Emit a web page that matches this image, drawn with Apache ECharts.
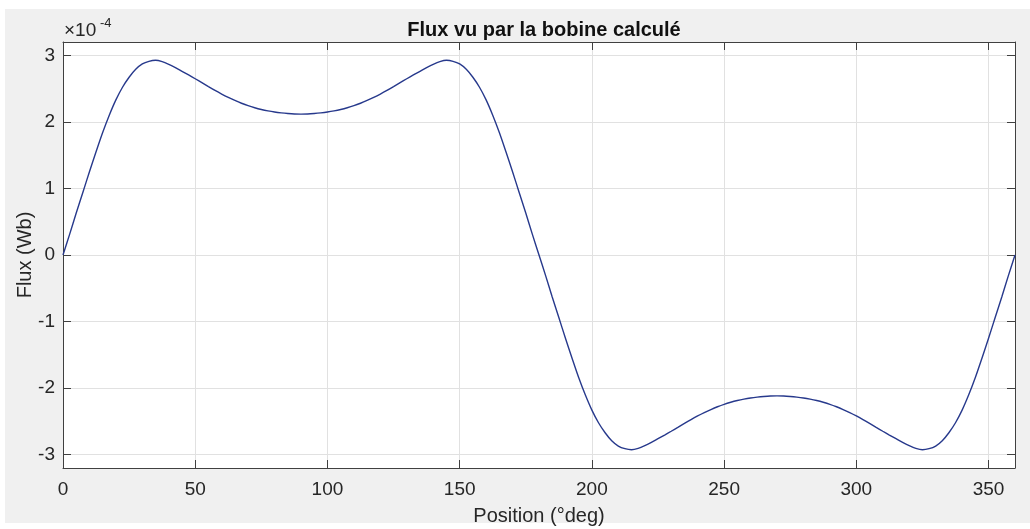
<!DOCTYPE html>
<html>
<head>
<meta charset="utf-8">
<script src="https://cdn.jsdelivr.net/npm/echarts@6/dist/echarts.min.js"></script>
<style>
  html, body { margin: 0; padding: 0; background: #ffffff; }
  #bg { position: absolute; left: 5px; top: 9px; width: 1025px; height: 514px; background: #f0f0f0; }
  #chart { position: absolute; left: 0; top: 0; width: 1030px; height: 529px; }
</style>
</head>
<body>
<div id="bg"></div>
<div id="chart"></div>
<script>
// Position (deg)
const positions = [
  0,2.5,5,7.5,10,12.5,15,17.5,20,22.5,25,27.5,30,32.5,35,37.5,40,42.5,45,47.5,50,52.5,55,57.5,60,62.5,65,67.5,70,72.5,75,77.5,80,82.5,85,87.5,90,
  92.5,95,97.5,100,102.5,105,107.5,110,112.5,115,117.5,120,122.5,125,127.5,130,132.5,135,137.5,140,142.5,145,147.5,150,152.5,155,157.5,160,162.5,165,167.5,170,172.5,175,177.5,180,
  182.5,185,187.5,190,192.5,195,197.5,200,202.5,205,207.5,210,212.5,215,217.5,220,222.5,225,227.5,230,232.5,235,237.5,240,242.5,245,247.5,250,252.5,255,257.5,260,262.5,265,267.5,270,
  272.5,275,277.5,280,282.5,285,287.5,290,292.5,295,297.5,300,302.5,305,307.5,310,312.5,315,317.5,320,322.5,325,327.5,330,332.5,335,337.5,340,342.5,345,347.5,350,352.5,355,357.5,360
];
// Flux (x 1e-4 Wb)
const flux = [
  0,0.31,0.63,0.94,1.25,1.55,1.84,2.10,2.33,2.52,2.67,2.79,2.87,2.91,2.925,2.905,2.865,2.815,2.76,2.705,2.648,2.59,2.53,2.472,2.418,2.368,2.322,2.28,2.243,2.212,2.186,2.165,2.148,2.135,2.125,2.118,2.116,
  2.118,2.125,2.135,2.148,2.165,2.186,2.212,2.243,2.28,2.322,2.368,2.418,2.472,2.53,2.59,2.648,2.705,2.76,2.815,2.865,2.905,2.925,2.91,2.87,2.79,2.67,2.52,2.33,2.10,1.84,1.55,1.25,0.94,0.63,0.31,0,
  -0.31,-0.63,-0.94,-1.25,-1.55,-1.84,-2.10,-2.33,-2.52,-2.67,-2.79,-2.87,-2.91,-2.925,-2.905,-2.865,-2.815,-2.76,-2.705,-2.648,-2.59,-2.53,-2.472,-2.418,-2.368,-2.322,-2.28,-2.243,-2.212,-2.186,-2.165,-2.148,-2.135,-2.125,-2.118,-2.116,
  -2.118,-2.125,-2.135,-2.148,-2.165,-2.186,-2.212,-2.243,-2.28,-2.322,-2.368,-2.418,-2.472,-2.53,-2.59,-2.648,-2.705,-2.76,-2.815,-2.865,-2.905,-2.925,-2.91,-2.87,-2.79,-2.67,-2.52,-2.33,-2.10,-1.84,-1.55,-1.25,-0.94,-0.63,-0.31,0
];

const titleText = 'Flux vu par la bobine calculé';
const xName = 'Position (°deg)';
const yName = 'Flux (Wb)';
const expBase = '×10';
const expPow = '-4';

const FONT = '"Liberation Sans", Arial, Helvetica, sans-serif';
const TXT = '#262626';
const AX = '#404040';
const GRIDC = '#e1e1e1';

const chart = echarts.init(document.getElementById('chart'), null, { renderer: 'canvas' });

const baseX = {
  type: 'value', min: 0, max: 360, interval: 50,
  axisLine: { show: true, onZero: false, lineStyle: { color: AX, width: 1 } },
  axisTick: { show: true, inside: true, length: 8, lineStyle: { color: AX } },
};
const baseY = {
  type: 'value', min: -3.2, max: 3.2, splitNumber: 6,
  axisLine: { show: true, onZero: false, lineStyle: { color: AX, width: 1 } },
  axisTick: { show: true, inside: true, length: 8, lineStyle: { color: AX } },
};

chart.setOption({
  backgroundColor: 'transparent',
  animation: false,
  title: {
    text: titleText, left: 539, top: 15, textAlign: 'center',
    textStyle: { fontFamily: FONT, fontSize: 20, fontWeight: 'bold', color: '#111111' }
  },
  grid: {
    left: 63, right: 15, top: 42, bottom: 61,
    containLabel: false, outerBoundsMode: 'none',
    show: true, backgroundColor: '#ffffff', borderWidth: 0
  },
  xAxis: [
    Object.assign({}, baseX, {
      position: 'bottom',
      name: xName, nameLocation: 'middle', nameGap: 38, nameMoveOverlap: false,
      nameTextStyle: { fontFamily: FONT, fontSize: 20, color: TXT },
      axisLabel: { show: true, margin: 12, fontFamily: FONT, fontSize: 19, color: TXT, showMaxLabel: false },
      splitLine: { show: true, lineStyle: { color: GRIDC, width: 1 } }
    }),
    Object.assign({}, baseX, {
      position: 'top',
      axisLabel: { show: false },
      splitLine: { show: false }
    })
  ],
  yAxis: [
    Object.assign({}, baseY, {
      position: 'left',
      name: yName, nameLocation: 'middle', nameGap: 28, nameMoveOverlap: false,
      nameTextStyle: { fontFamily: FONT, fontSize: 20, color: TXT },
      axisLabel: { show: true, margin: 8, fontFamily: FONT, fontSize: 19, color: TXT, showMinLabel: false, showMaxLabel: false },
      splitLine: { show: true, lineStyle: { color: GRIDC, width: 1 } }
    }),
    Object.assign({}, baseY, {
      position: 'right',
      axisLabel: { show: false },
      splitLine: { show: false }
    })
  ],
  graphic: [
    { type: 'text', left: 64, top: 21, style: { text: expBase, fontSize: 19, fontFamily: FONT, fill: TXT } },
    { type: 'text', left: 100, top: 17, style: { text: expPow, fontSize: 13, fontFamily: FONT, fill: TXT } }
  ],
  series: [{
    type: 'line',
    xAxisIndex: 0, yAxisIndex: 0,
    data: positions.map((p, i) => [p, flux[i]]),
    showSymbol: false,
    smooth: 0.3,
    lineStyle: { color: '#27398c', width: 1.4 },
    itemStyle: { color: '#27398c' }
  }]
});
</script>
</body>
</html>
